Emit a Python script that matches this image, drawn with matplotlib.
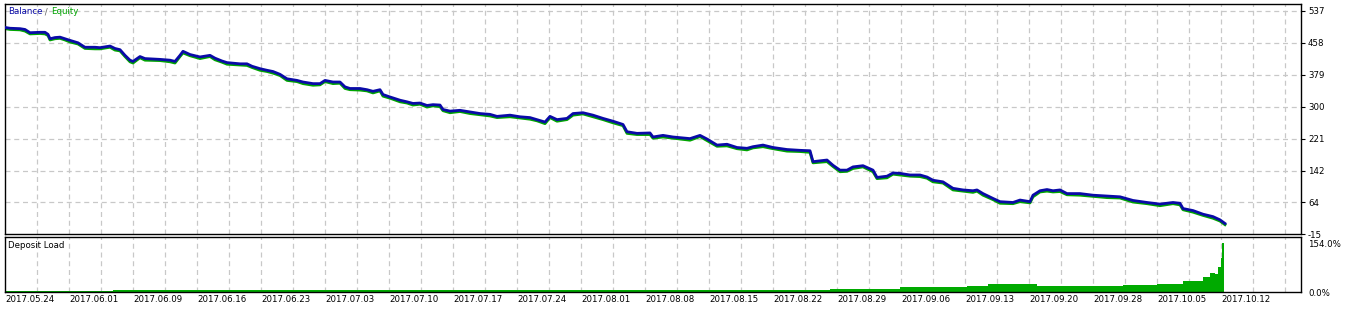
import matplotlib
matplotlib.use("Agg")
import matplotlib.pyplot as plt

# ---------------- data ----------------
deal_no = [0, 5, 15, 20, 25, 35, 40, 43, 45, 50, 55, 60, 65, 73, 80, 90, 95, 105, 110, 115,
           120, 125, 128, 135, 140, 155, 165, 170, 175, 178, 185, 195, 205, 210, 217, 222, 235,
           242, 247, 255, 262, 268, 275, 282, 292, 298, 308, 315, 320, 328, 335, 340, 345, 355,
           362, 368, 375, 378, 385, 395, 402, 408, 415, 422, 428, 435, 438, 445, 455, 465, 475,
           485, 492, 505, 515, 525, 532, 540, 545, 552, 562, 568, 578, 588, 598, 608, 618, 622,
           632, 645, 648, 658, 668, 685, 695, 702, 712, 722, 732, 742, 748, 758, 768, 782, 795,
           805, 808, 822, 828, 835, 842, 848, 858, 868, 872, 882, 888, 895, 905, 915, 922, 928,
           938, 948, 958, 968, 972, 978, 988, 995, 1008, 1015, 1025, 1028, 1035, 1042, 1048,
           1055, 1062, 1075, 1088, 1102, 1115, 1128, 1142, 1155, 1168, 1175, 1178, 1188, 1198,
           1208, 1215, 1220]
balance = [496, 494, 493, 491, 483, 484, 484, 479, 468, 471, 472, 468, 464, 458, 447, 447, 446,
           450, 444, 441, 427, 415, 412, 424, 419, 417, 415, 412, 427, 437, 429, 423, 427, 420,
           413, 409, 406, 406, 400, 394, 390, 387, 380, 369, 365, 361, 357, 357, 365, 361, 361,
           349, 345, 345, 342, 338, 342, 330, 324, 316, 312, 308, 309, 303, 305, 304, 293, 289,
           291, 287, 283, 281, 276, 279, 275, 273, 268, 262, 276, 268, 271, 283, 285, 279, 271,
           264, 256, 238, 234, 235, 225, 229, 225, 221, 229, 220, 205, 207, 199, 197, 201, 205,
           199, 194, 192, 191, 164, 168, 155, 143, 143, 151, 154, 143, 125, 128, 136, 135, 131,
           131, 126, 118, 114, 98, 94, 92, 94, 85, 73, 65, 63, 69, 65, 81, 92, 95, 92, 94, 85,
           85, 81, 79, 77, 68, 63, 59, 63, 61, 48, 43, 34, 28, 20, 11]
equity = [493, 491, 490, 487, 480, 481, 480, 476, 465, 468, 469, 465, 460, 455, 444, 443, 443,
          447, 440, 438, 424, 411, 408, 421, 415, 414, 411, 408, 424, 433, 426, 419, 424, 416,
          410, 405, 403, 402, 397, 390, 387, 383, 377, 365, 362, 357, 353, 354, 362, 357, 358,
          345, 342, 341, 339, 334, 339, 326, 321, 312, 309, 304, 306, 299, 302, 300, 290, 285,
          288, 283, 280, 277, 273, 275, 272, 269, 265, 258, 273, 264, 268, 279, 282, 275, 268,
          260, 253, 234, 231, 231, 222, 225, 222, 217, 226, 216, 202, 203, 196, 193, 198, 201,
          196, 190, 189, 187, 161, 164, 152, 139, 140, 147, 151, 139, 122, 124, 133, 131, 128,
          127, 123, 114, 111, 94, 91, 88, 91, 81, 70, 61, 60, 65, 62, 77, 89, 91, 89, 90, 82,
          81, 78, 75, 74, 64, 60, 55, 60, 57, 45, 39, 31, 24, 17, 8]

load_deal = [0, 108, 555, 695, 825, 895, 928, 962, 983, 992, 1025, 1032, 1058, 1088, 1118,
             1152, 1178, 1192, 1198, 1205, 1210, 1213, 1216, 1217, 1219]
load_pct = [3, 5, 6, 7, 9, 15, 17, 20, 24, 26, 24, 18, 19, 20, 22, 26, 34, 36, 48, 61, 56, 78,
            106, 154, 0]

y_ticks_bal = [537, 458, 379, 300, 221, 142, 64, -15]
date_labels = ["2017.05.24", "2017.06.01", "2017.06.09", "2017.06.16", "2017.06.23",
               "2017.07.03", "2017.07.10", "2017.07.17", "2017.07.24", "2017.08.01",
               "2017.08.08", "2017.08.15", "2017.08.22", "2017.08.29", "2017.09.06",
               "2017.09.13", "2017.09.20", "2017.09.28", "2017.10.05", "2017.10.12"]
load_ticks = [154.0, 0.0]

# ---------------- styling ----------------
W, H = 1346, 309
FS = 6.2
BLUE = "#0a0aa8"
GREEN = "#00a400"
GRID = "#c8c8c8"
plt.rcParams["font.family"] = ["DejaVu Sans"]

fig = plt.figure(figsize=(W / 100, H / 100), dpi=100)


def ax_rect(x0, y0, x1, y1):
    return [x0 / W, 1 - y1 / H, (x1 - x0) / W, (y1 - y0) / H]


ax = fig.add_axes(ax_rect(5, 4, 1301, 234))
ax2 = fig.add_axes(ax_rect(5, 237, 1301, 292))

XMAX = 1296
step_minor = 32
grid_x = list(range(step_minor, XMAX, step_minor))

for a in (ax, ax2):
    a.set_xlim(0, XMAX)
    for gx in grid_x:
        a.axvline(gx, color=GRID, lw=0.9, ls=(0, (4, 3)), zorder=0)
    for s in a.spines.values():
        s.set_color("black")
        s.set_linewidth(1.0)

# top panel
ax.set_ylim(-15, 554)
for gy in y_ticks_bal[:-1]:
    ax.axhline(gy, color=GRID, lw=0.9, ls=(0, (4, 3)), zorder=0)
ax.plot(deal_no, equity, color=GREEN, lw=2.0, zorder=2)
ax.plot(deal_no, balance, color=BLUE, lw=2.0, zorder=3)
ax.set_xticks([])
ax.yaxis.tick_right()
ax.set_yticks(y_ticks_bal)
ax.set_yticklabels([str(v) for v in y_ticks_bal])
ax.tick_params(axis="y", direction="out", length=3, width=0.8, pad=2, labelsize=FS)

t1 = ax.text(3 / 1296, 1 - 8 / 230, "Balance", color=BLUE, fontsize=FS,
             transform=ax.transAxes, ha="left", va="center")
t2 = ax.annotate(" / ", xy=(1, 0), xycoords=t1, color="#606060", fontsize=FS,
                 ha="left", va="bottom")
ax.annotate("Equity", xy=(1, 0), xycoords=t2, color=GREEN, fontsize=FS,
            ha="left", va="bottom")

# bottom panel
ax2.set_ylim(0, 173)
ax2.fill_between(load_deal, load_pct, 0, step="post", color="#00aa00", lw=0, zorder=2)
ax2.yaxis.tick_right()
ax2.set_yticks(load_ticks)
ax2.set_yticklabels([f"{v:.1f}%" for v in load_ticks])
ax2.tick_params(axis="y", length=0, pad=5, labelsize=FS)
ax2.text(3 / 1296, 1 - 9 / 55, "Deposit Load", color="black", fontsize=FS,
         transform=ax2.transAxes, ha="left", va="center")

ax2.set_xticks([64 * i for i in range(len(date_labels))])
ax2.set_xticklabels(date_labels, ha="left")
ax2.tick_params(axis="x", length=0, pad=2, labelsize=FS)

fig.savefig("out.png", dpi=100)
